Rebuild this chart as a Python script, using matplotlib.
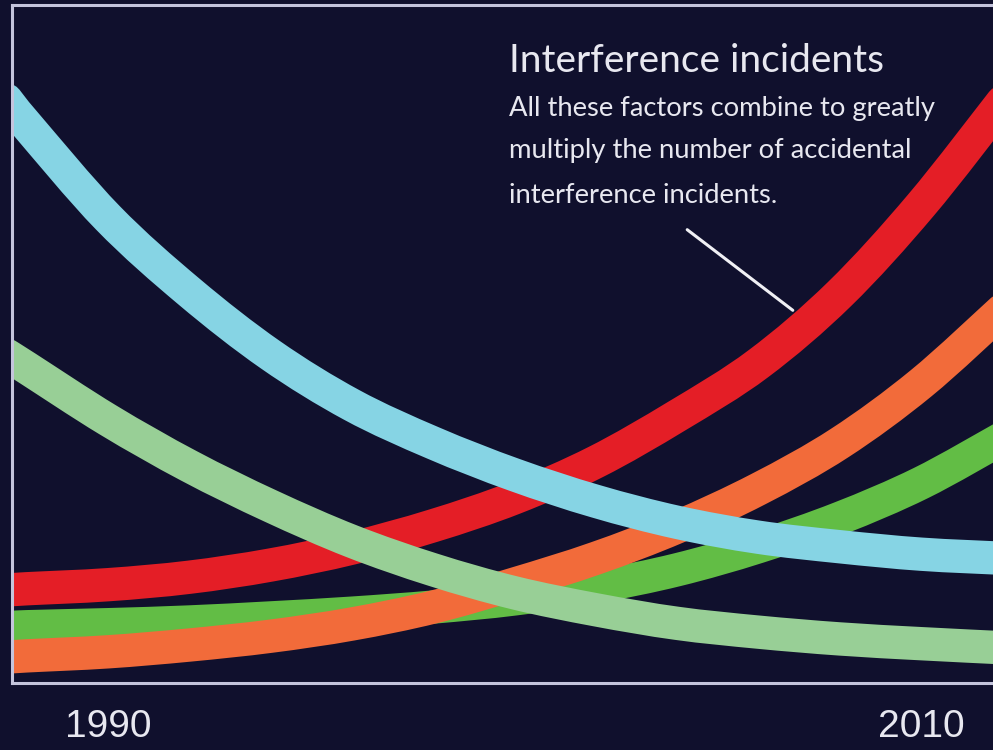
import numpy as np
import matplotlib
matplotlib.use("Agg")
import matplotlib.pyplot as plt
from matplotlib.path import Path
from matplotlib.patches import PathPatch

# Trend index per year (0-100 scale)
years = [1987.5, 1988, 1990, 1992, 1994, 1996, 1998, 2000, 2002, 2004, 2006, 2008, 2010, 2012]
cyan_vals = [86.0, 82.3, 68.6, 57.7, 48.4, 41.0, 35.4, 30.7, 26.8, 23.7, 21.5, 20.1, 19.0, 18.4]
pale_green_vals = [48.4, 46.5, 38.8, 32.0, 26.1, 20.9, 16.7, 13.3, 10.8, 8.8, 7.5, 6.5, 5.8, 5.2]
red_vals = [13.7, 13.9, 14.5, 15.6, 17.4, 19.9, 23.2, 27.3, 32.6, 39.4, 47.1, 57.4, 70.5, 85.7]
orange_vals = [3.8, 4.0, 4.6, 5.6, 6.9, 8.7, 11.2, 14.6, 18.4, 23.0, 28.6, 35.4, 44.2, 55.0]
green_vals = [8.1, 8.3, 8.6, 9.0, 9.6, 10.3, 11.2, 12.4, 14.2, 16.7, 20.1, 24.3, 29.5, 36.1]

tick_years = [1990, 2010]
tick_labels = ["1990", "2010"]

title = "Interference incidents"
body_lines = [
    "All these factors combine to greatly",
    "multiply the number of accidental",
    "interference incidents.",
]

BG = "#10102d"
SPINE = "#c4c4dc"
TEXT = "#e8e8f0"


def smooth_path(xs, ys):
    """Catmull-Rom through the points, as cubic bezier segments."""
    pts = np.column_stack([xs, ys]).astype(float)
    ext = np.vstack([pts[0], pts, pts[-1]])
    verts = [pts[0]]
    codes = [Path.MOVETO]
    for i in range(1, len(ext) - 2):
        p0, p1, p2, p3 = ext[i - 1], ext[i], ext[i + 1], ext[i + 2]
        verts += [p1 + (p2 - p0) / 6, p2 - (p3 - p1) / 6, p2]
        codes += [Path.CURVE4] * 3
    return Path(verts, codes)


W, H = 993, 750
fig = plt.figure(figsize=(W / 100, H / 100), dpi=100, facecolor=BG)
ax = fig.add_axes([12 / W, 67 / H, (W - 12) / W, 678 / H])
ax.set_facecolor(BG)

# series drawn bottom to top
series = [
    (green_vals, "#62bd45"),
    (orange_vals, "#f26b3a"),
    (red_vals, "#e41e26"),
    (pale_green_vals, "#98cf96"),
    (cyan_vals, "#86d4e4"),
]
for vals, col in series:
    patch = PathPatch(smooth_path(years, vals), fill=False, edgecolor=col,
                      linewidth=24, capstyle="round", joinstyle="round")
    ax.add_patch(patch)

ax.set_xlim(1987.64, 2011.77)
ax.set_ylim(0, 100)

for side in ["left", "top", "bottom"]:
    ax.spines[side].set_color(SPINE)
    ax.spines[side].set_linewidth(2.2)
ax.spines["right"].set_visible(False)

ax.set_yticks([])
ax.set_xticks(tick_years)
ax.set_xticklabels(tick_labels, fontsize=28, color=TEXT, family="Liberation Sans")
ax.tick_params(axis="x", length=0, pad=19)

fig.text(509 / W, 1 - 72 / H, title, fontsize=28, color=TEXT,
         family="Lato", va="baseline")
for i, line in enumerate(body_lines):
    base = [116, 158, 203][i]
    fig.text(509 / W, 1 - base / H, line, fontsize=19.7, color=TEXT,
             family="Lato", va="baseline")

# pointer from the note down to the red curve
ax.annotate("", xy=(795, H - 312), xycoords="figure pixels",
            xytext=(685, H - 228), textcoords="figure pixels",
            arrowprops=dict(arrowstyle="-", color="#f0f0f4", lw=2.2))

fig.savefig("out.png", dpi=100, facecolor=BG)
